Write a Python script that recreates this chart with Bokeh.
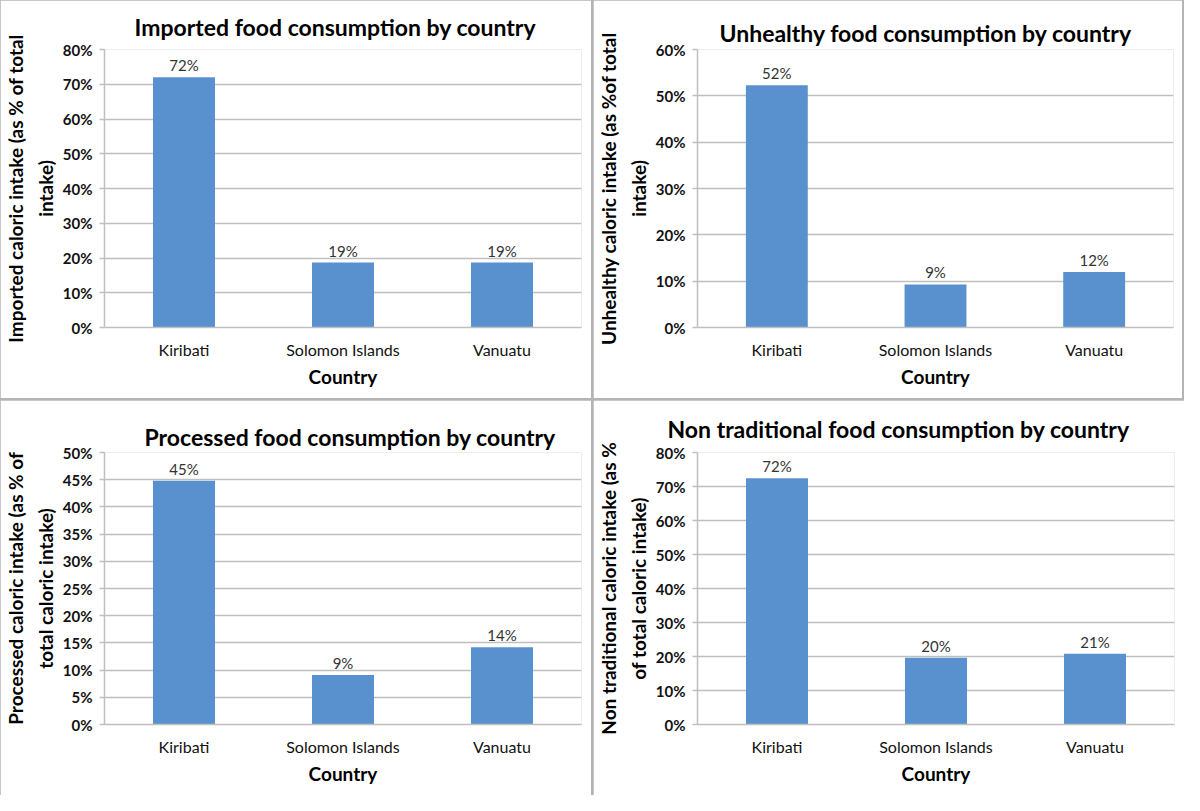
from bokeh.plotting import figure
from bokeh.layouts import row, column
from bokeh.models import (Range1d, FactorRange, SingleIntervalTicker, PrintfTickFormatter,
                          Title, ColumnDataSource)
from bokeh.core.properties import value
from bokeh.embed import file_html
from bokeh.resources import INLINE

# ---------------- data ----------------
countries = ["Kiribati", "Solomon Islands", "Vanuatu"]

imported = [72.0, 18.7, 18.7]
unhealthy = [52.3, 9.3, 12.0]
processed = [44.8, 9.1, 14.2]
non_traditional = [72.4, 19.6, 20.8]

titles = [
    "Imported food consumption by country",
    "Unhealthy food consumption by country",
    "Processed food consumption by country",
    "Non traditional food consumption by country",
]
y_labels = [
    "Imported caloric intake (as % of total\nintake)",
    "Unhealthy caloric intake (as %of total\nintake)",
    "Processed caloric intake (as % of\ntotal caloric intake)",
    "Non traditional caloric intake (as %\nof total caloric intake)",
]
x_label = "Country"
y_max = [80, 60, 50, 80]
y_step = [10, 10, 5, 10]

FONT = "Lato"
BAR = "#5891cd"
GRID = "#bfbfbf"


def make_panel(vals, title, ylab, ymax, ystep, w, h, borders, t_offset, t_standoff):
    left, right, top, bottom = borders
    src = ColumnDataSource(dict(
        x=countries, top=vals, lab=[f"{v:.0f}%" for v in vals]))
    p = figure(width=w, height=h, x_range=FactorRange(*countries, range_padding=0),
               y_range=Range1d(0, ymax), output_backend="svg", toolbar_location=None,
               min_border_left=left, min_border_right=right,
               min_border_top=top, min_border_bottom=bottom)
    p.title = None
    p.add_layout(Title(text=title, align="left", offset=t_offset, standoff=t_standoff,
                       text_font=FONT, text_font_size="23px", text_font_style="bold",
                       text_color="#000000"), "above")
    p.outline_line_color = None
    p.background_fill_color = "white"
    p.border_fill_color = "white"

    p.vbar(x="x", top="top", width=0.39, source=src, fill_color=BAR, line_color=None)
    p.text(x="x", y="top", text="lab", source=src, text_align="center",
           text_baseline="bottom", y_offset=-3, text_font=value(FONT),
           text_font_size="15px", text_color="#333333")

    # y axis
    ya = p.yaxis[0]
    ya.ticker = SingleIntervalTicker(interval=ystep)
    ya.formatter = PrintfTickFormatter(format="%d%%")
    ya.axis_line_color = GRID
    ya.axis_line_width = 1.5
    ya.major_tick_line_color = GRID
    ya.major_tick_line_width = 1.5
    ya.major_tick_out = 5
    ya.major_tick_in = 0
    ya.minor_tick_line_color = None
    ya.major_label_text_font = FONT
    ya.major_label_text_font_size = "15px"
    ya.major_label_text_font_style = "bold"
    ya.major_label_text_color = "#111111"
    ya.major_label_standoff = 7
    ya.axis_label = ylab
    ya.axis_label_text_font = FONT
    ya.axis_label_text_font_size = "19px"
    ya.axis_label_text_font_style = "bold"
    ya.axis_label_text_color = "#000000"
    ya.axis_label_text_line_height = 1.3
    ya.axis_label_standoff = 3

    # x axis
    xa = p.xaxis[0]
    xa.axis_line_color = GRID
    xa.axis_line_width = 1.5
    xa.major_tick_line_color = None
    xa.minor_tick_line_color = None
    xa.major_label_text_font = FONT
    xa.major_label_text_font_size = "16px"
    xa.major_label_text_color = "#111111"
    xa.major_label_standoff = 6
    xa.axis_label = x_label
    xa.axis_label_text_font = FONT
    xa.axis_label_text_font_size = "19px"
    xa.axis_label_text_font_style = "bold"
    xa.axis_label_text_color = "#000000"
    xa.axis_label_standoff = 3

    p.xgrid.grid_line_color = None
    p.ygrid.grid_line_color = GRID
    p.ygrid.grid_line_width = 1.5
    return p


W = 591
p1 = make_panel(imported, titles[0], y_labels[0], y_max[0], y_step[0], W, 398,
                (104, 10, 49, 71), 30, 17)
p2 = make_panel(unhealthy, titles[1], y_labels[1], y_max[1], y_step[1], W - 2, 398,
                (98, 9, 49, 71), 22, 6)
p3 = make_panel(processed, titles[2], y_labels[2], y_max[2], y_step[2], W, 395,
                (104, 10, 52, 71), 40, 4)
p4 = make_panel(non_traditional, titles[3], y_labels[3], y_max[3], y_step[3], W, 395,
                (98, 10, 52, 71), -30, 20)

layout = column(row(p1, p2, spacing=2), row(p3, p4, spacing=2), spacing=2,
                styles={"background-color": "#b4b4b4"})

open("out.html", "w").write(file_html(layout, INLINE))
